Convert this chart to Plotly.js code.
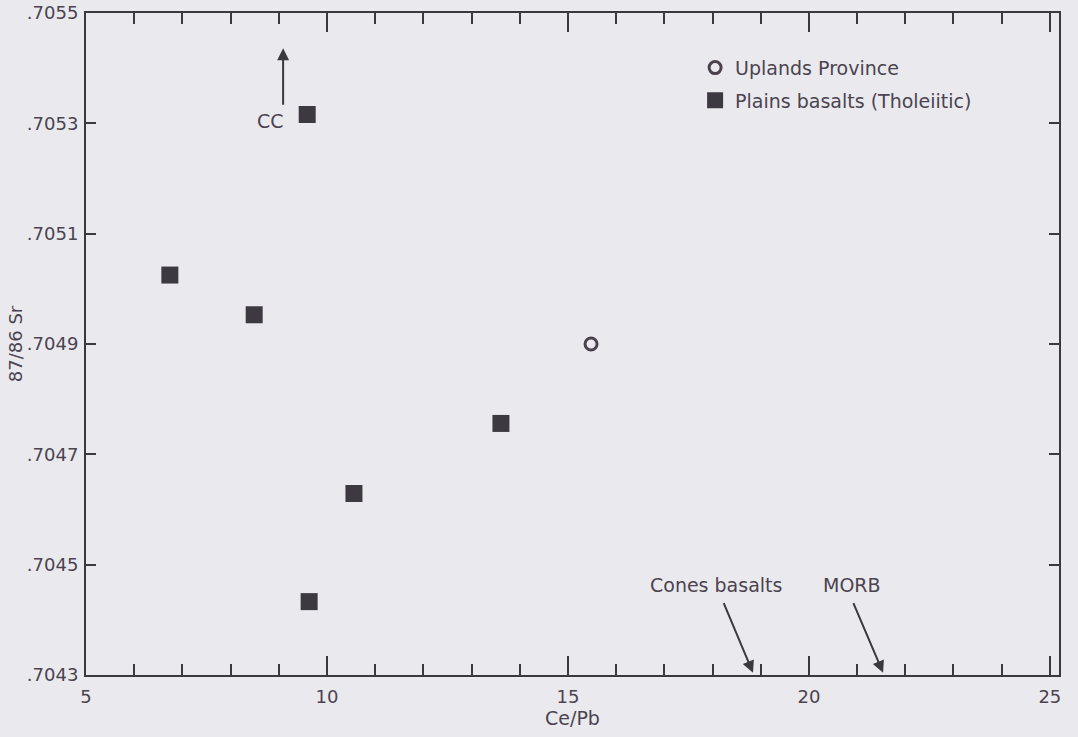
<!DOCTYPE html>
<html>
<head>
<meta charset="utf-8">
<script src="https://cdn.plot.ly/plotly-3.0.1.min.js"></script>
<style>html,body{margin:0;padding:0;background:#eaeaee;}#chart{width:1078px;height:737px;}</style>
</head>
<body>
<div id="chart"></div>
<script>
// Uplands Province
const uplandsCePb = [15.48];
const uplandsSr = [0.70490];
// Plains basalts (Tholeiitic)
const plainsCePb = [6.74, 8.49, 9.59, 10.56, 9.63, 13.61];
const plainsSr = [0.705025, 0.704953, 0.705316, 0.704629, 0.704433, 0.704756];
// Y tick labels
const yTickVals = [0.7043, 0.7045, 0.7047, 0.7049, 0.7051, 0.7053, 0.7055];
const yTickText = ['.7043', '.7045', '.7047', '.7049', '.7051', '.7053', '.7055'];
const xTickVals = [5, 10, 15, 20, 25];

const ink = '#3a3a3e';
const txt = '#4a4350';
const font = 'DejaVu Sans, sans-serif';

const traces = [
  {x: uplandsCePb, y: uplandsSr, type: 'scatter', mode: 'markers', name: 'Uplands Province', legendgroup: 'a',
   marker: {symbol: 'circle-open', size: 12, color: '#4a424c', line: {width: 3, color: '#4a424c'}}},
  {x: plainsCePb, y: plainsSr, type: 'scatter', mode: 'markers', name: 'Plains basalts (Tholeiitic)', legendgroup: 'b',
   marker: {symbol: 'square', size: 17, color: '#3c3a40', line: {width: 0}}}
];

const arrow = (x, y, ax, ay) => ({x: x, y: y, ax: ax, ay: ay, xref: 'x', yref: 'y', axref: 'x', ayref: 'y',
  text: '', showarrow: true, arrowhead: 2, arrowsize: 1.2, arrowwidth: 2, arrowcolor: ink});
const label = (x, y, t, anchor) => ({x: x, y: y, xref: 'x', yref: 'y', text: t, showarrow: false,
  xanchor: anchor || 'center', yanchor: 'middle', font: {family: font, size: 19, color: txt}});

const layout = {
  width: 1078, height: 737,
  paper_bgcolor: '#eaeaee', plot_bgcolor: '#eaeaee',
  margin: {l: 86, r: 19, t: 13, b: 62},
  font: {family: font, size: 19, color: txt},
  showlegend: true,
  legend: {x: 0.626, y: 0.946, xanchor: 'left', yanchor: 'top', bgcolor: 'rgba(0,0,0,0)',
           traceorder: 'grouped', tracegroupgap: 5,
           font: {family: font, size: 19, color: txt}, itemwidth: 30},
  xaxis: {range: [5, 25.19], tickvals: xTickVals, ticks: 'inside', ticklen: 19, tickwidth: 2, tickcolor: ink,
          showline: true, linewidth: 2, linecolor: ink, mirror: 'allticks', showgrid: false, zeroline: false,
          ticklabelstandoff: 4,
          minor: {dtick: 1, tick0: 5, ticks: 'inside', ticklen: 11, tickwidth: 2, tickcolor: ink, showgrid: false},
          tickfont: {family: font, size: 18, color: txt},
          title: {text: 'Ce/Pb', font: {family: font, size: 19, color: txt}, standoff: 3}},
  yaxis: {range: [0.7043, 0.7055], tickvals: yTickVals, ticktext: yTickText, ticks: 'inside', ticklen: 10,
          tickwidth: 2, tickcolor: ink, showline: true, linewidth: 2, linecolor: ink, mirror: 'allticks',
          ticklabelstandoff: 2,
          showgrid: false, zeroline: false, tickfont: {family: font, size: 18, color: txt},
          title: {text: '87/86 Sr', font: {family: font, size: 18, color: txt}, standoff: 0}},
  annotations: [
    arrow(9.09, 0.705436, 9.09, 0.705331),
    label(8.82, 0.705304, 'CC'),
    arrow(18.84, 0.704304, 18.22, 0.704433),
    label(18.07, 0.704464, 'Cones basalts'),
    arrow(21.54, 0.704304, 20.91, 0.704433),
    label(20.89, 0.704464, 'MORB')
  ]
};

Plotly.newPlot('chart', traces, layout, {displayModeBar: false, staticPlot: true});
</script>
</body>
</html>
